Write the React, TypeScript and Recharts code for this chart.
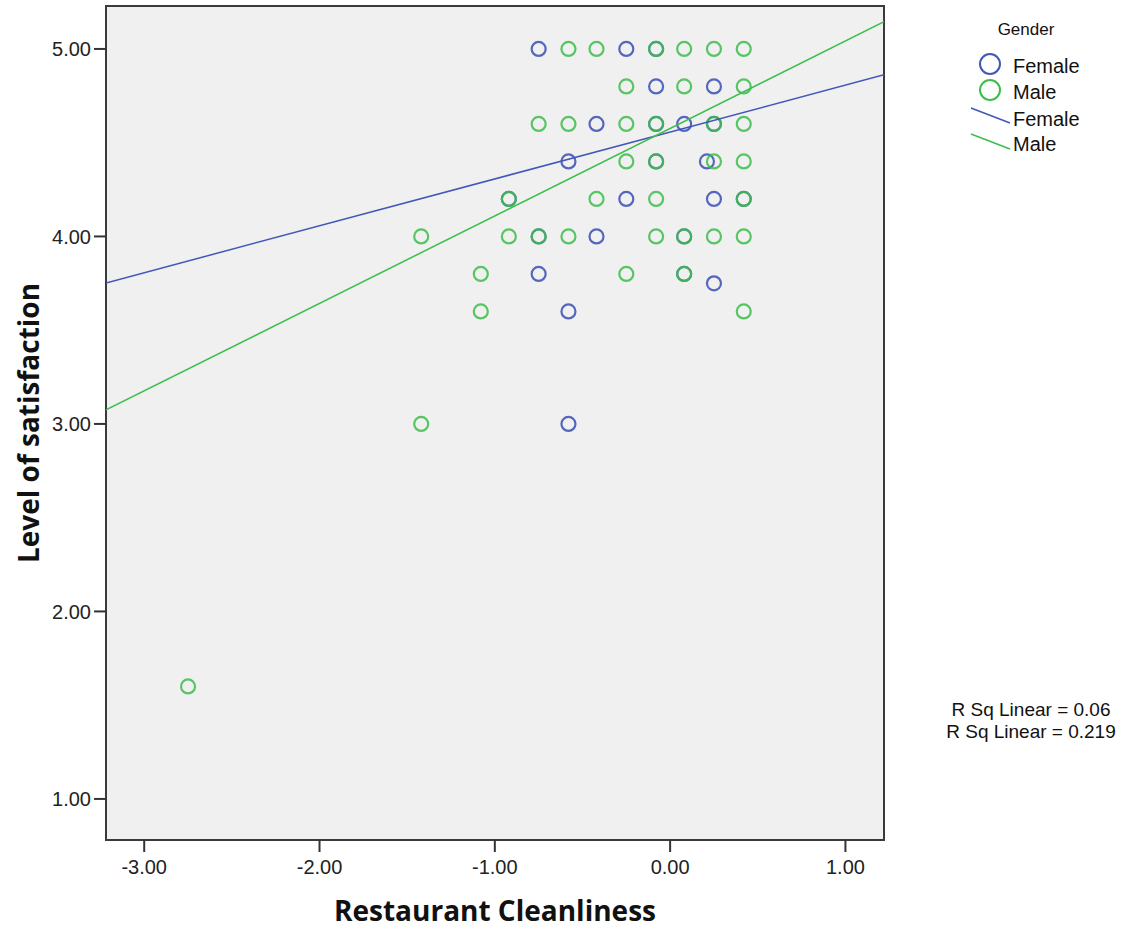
import React from 'react';
import { ScatterChart, Scatter, XAxis, YAxis, ReferenceArea } from 'recharts';

// Restaurant Cleanliness (x) vs Level of satisfaction (y)
const femalePoints = [
  { x: -0.75, y: 5.0 }, { x: -0.25, y: 5.0 }, { x: -0.08, y: 5.0 },
  { x: -0.08, y: 4.8 }, { x: 0.25, y: 4.8 },
  { x: -0.42, y: 4.6 }, { x: -0.08, y: 4.6 }, { x: 0.08, y: 4.6 }, { x: 0.25, y: 4.6 },
  { x: -0.58, y: 4.4 }, { x: -0.08, y: 4.4 }, { x: 0.21, y: 4.4 },
  { x: -0.92, y: 4.2 }, { x: -0.25, y: 4.2 }, { x: 0.25, y: 4.2 }, { x: 0.42, y: 4.2 },
  { x: -0.75, y: 4.0 }, { x: -0.42, y: 4.0 }, { x: 0.08, y: 4.0 },
  { x: -0.75, y: 3.8 }, { x: 0.08, y: 3.8 },
  { x: 0.25, y: 3.75 },
  { x: -0.58, y: 3.6 },
  { x: -0.58, y: 3.0 },
];

const malePoints = [
  { x: -0.58, y: 5.0 }, { x: -0.42, y: 5.0 }, { x: -0.08, y: 5.0 }, { x: 0.08, y: 5.0 },
  { x: 0.25, y: 5.0 }, { x: 0.42, y: 5.0 },
  { x: -0.25, y: 4.8 }, { x: 0.08, y: 4.8 }, { x: 0.42, y: 4.8 },
  { x: -0.75, y: 4.6 }, { x: -0.58, y: 4.6 }, { x: -0.25, y: 4.6 }, { x: -0.08, y: 4.6 },
  { x: 0.25, y: 4.6 }, { x: 0.42, y: 4.6 },
  { x: -0.25, y: 4.4 }, { x: -0.08, y: 4.4 }, { x: 0.25, y: 4.4 }, { x: 0.42, y: 4.4 },
  { x: -0.92, y: 4.2 }, { x: -0.42, y: 4.2 }, { x: -0.08, y: 4.2 }, { x: 0.42, y: 4.2 },
  { x: -1.42, y: 4.0 }, { x: -0.92, y: 4.0 }, { x: -0.75, y: 4.0 }, { x: -0.58, y: 4.0 },
  { x: -0.08, y: 4.0 }, { x: 0.08, y: 4.0 }, { x: 0.25, y: 4.0 }, { x: 0.42, y: 4.0 },
  { x: -1.08, y: 3.8 }, { x: -0.25, y: 3.8 }, { x: 0.08, y: 3.8 },
  { x: -1.08, y: 3.6 }, { x: 0.42, y: 3.6 },
  { x: -1.42, y: 3.0 },
  { x: -2.75, y: 1.6 },
];

// fit line end points
const femaleFit = [{ x: -3.218, y: 3.752 }, { x: 1.22, y: 4.862 }];
const maleFit = [{ x: -3.218, y: 3.075 }, { x: 1.22, y: 5.145 }];

const xTicks = [-3, -2, -1, 0, 1];
const yTicks = [1, 2, 3, 4, 5];
const xDomain = [-3.218, 1.22];
const yDomain = [0.781, 5.229];

const BLUE = '#4257b8';
const GREEN = '#3dbd4b';

const tickStyle = { fill: '#222', fontSize: 20, fontFamily: 'Liberation Sans, Arial, sans-serif' };
const titleStyle = { fill: '#111', fontSize: 28, fontWeight: 700, fontFamily: 'Open Sans, sans-serif' };

const ring = (color: string, opacity: number) => (props: any) => (
  <circle cx={props.cx} cy={props.cy} r={7} fill="none" stroke={color} strokeOpacity={opacity} strokeWidth={2.2} />
);

const fmt = (v: number) => v.toFixed(2);

export default function App() {
  return (
    <div style={{ position: 'absolute', left: 0, top: 0, width: 1139, height: 932, background: '#fff' }}>
      <ScatterChart width={1139} height={932} margin={{ top: 6, right: 255, left: 0, bottom: 0 }}>
        <XAxis
          type="number"
          dataKey="x"
          domain={xDomain}
          ticks={xTicks}
          allowDataOverflow
          height={92}
          axisLine={false}
          tickLine={{ stroke: '#333', strokeWidth: 2 }}
          tickSize={12}
          tickMargin={8}
          tick={tickStyle}
          tickFormatter={fmt}
          label={{ value: 'Restaurant Cleanliness', position: 'insideBottom', offset: 11, style: titleStyle }}
        />
        <YAxis
          type="number"
          dataKey="y"
          domain={yDomain}
          ticks={yTicks}
          allowDataOverflow
          width={106}
          axisLine={false}
          tickLine={{ stroke: '#333', strokeWidth: 2 }}
          tickSize={12}
          tickMargin={3}
          tick={tickStyle}
          tickFormatter={fmt}
          label={{ value: 'Level of satisfaction', angle: -90, position: 'insideLeft', offset: 29, style: { ...titleStyle, textAnchor: 'middle' } }}
        />
        <ReferenceArea
          x1={xDomain[0]}
          x2={xDomain[1]}
          y1={yDomain[0]}
          y2={yDomain[1]}
          fill="#f0f0f0"
          fillOpacity={1}
          stroke="#3a3a3a"
          strokeWidth={2}
        />
        <Scatter data={femalePoints} shape={ring(BLUE, 0.9)} isAnimationActive={false} />
        <Scatter data={malePoints} shape={ring(GREEN, 0.85)} isAnimationActive={false} />
        <Scatter data={femaleFit} line={{ stroke: BLUE, strokeWidth: 1.5 }} shape={() => <g />} isAnimationActive={false} />
        <Scatter data={maleFit} line={{ stroke: GREEN, strokeWidth: 1.5 }} shape={() => <g />} isAnimationActive={false} />
      </ScatterChart>

      <svg width={1139} height={932} style={{ position: 'absolute', left: 0, top: 0, pointerEvents: 'none' }}>
        <g fontFamily="Liberation Sans, Arial, sans-serif" fill="#111">
          <text x={1026} y={35} fontSize={17} textAnchor="middle">Gender</text>
          <circle cx={990} cy={64} r={10} fill="none" stroke={BLUE} strokeWidth={2} />
          <text x={1013} y={73} fontSize={20}>Female</text>
          <circle cx={990} cy={90} r={10} fill="none" stroke={GREEN} strokeWidth={2} />
          <text x={1013} y={99} fontSize={20}>Male</text>
          <line x1={971} y1={108} x2={1010} y2={123} stroke={BLUE} strokeWidth={1.5} />
          <text x={1013} y={126} fontSize={20}>Female</text>
          <line x1={971} y1={134} x2={1010} y2={149} stroke={GREEN} strokeWidth={1.5} />
          <text x={1013} y={151} fontSize={20}>Male</text>
          <text x={1031} y={716} fontSize={19} textAnchor="middle">R Sq Linear = 0.06</text>
          <text x={1031} y={738} fontSize={19} textAnchor="middle">R Sq Linear = 0.219</text>
        </g>
      </svg>
    </div>
  );
}
